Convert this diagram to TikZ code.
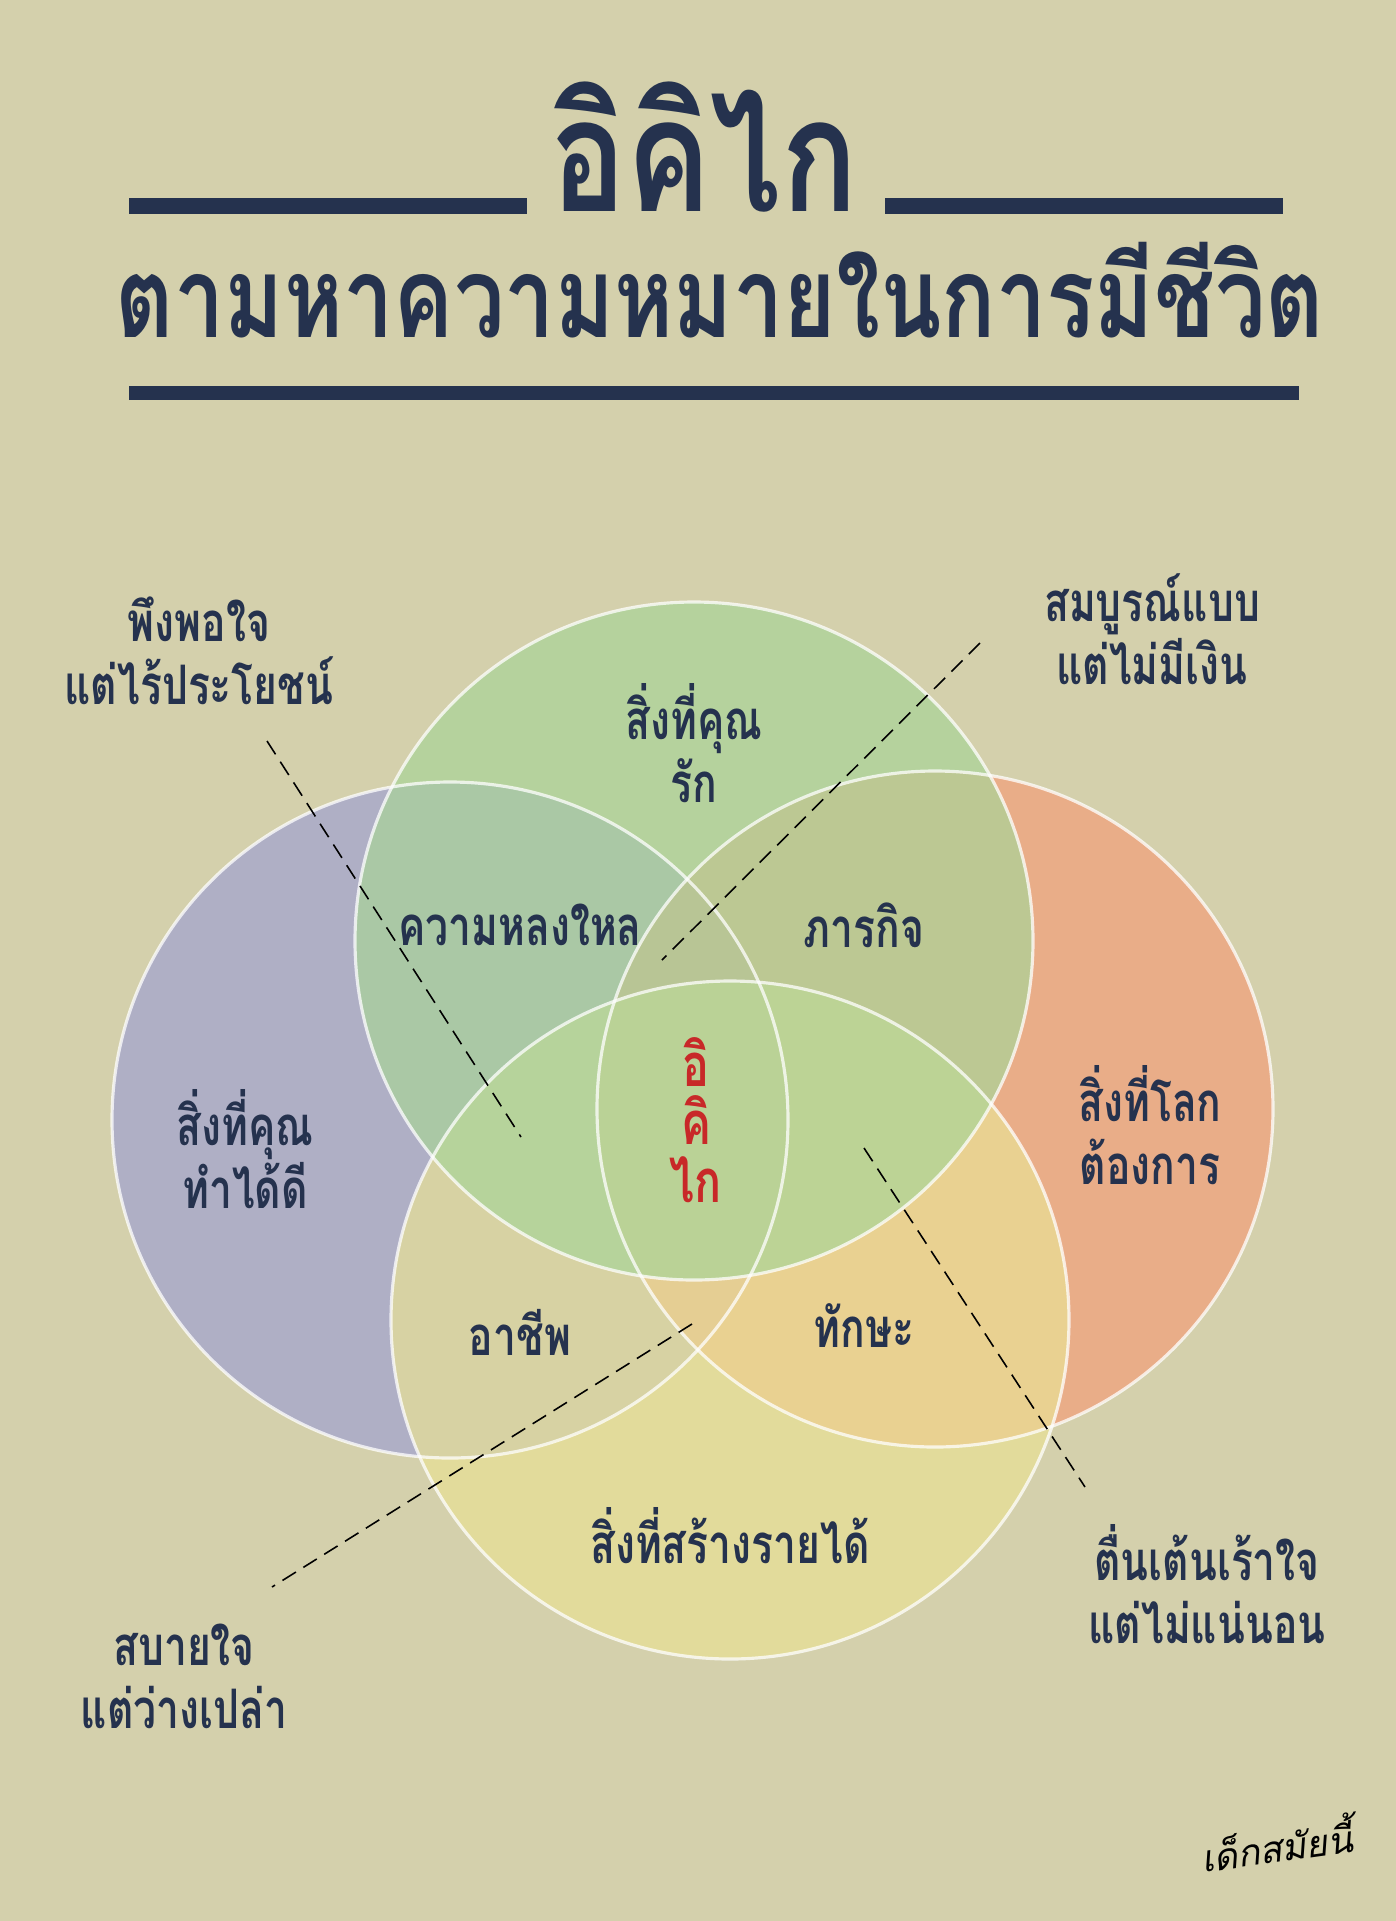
\documentclass[tikz,border=0pt]{standalone}
\usepackage{fontspec}
\newfontfamily\thaifont[Script=Thai,FakeStretch=0.75]{Loma}
\newfontfamily\thaihead[Script=Thai,FakeStretch=0.8]{Loma}
\newfontfamily\thaisign[Script=Thai]{Loma}
\definecolor{paper}{RGB}{212,208,172}
\definecolor{ink}{RGB}{37,50,78}
\definecolor{ikired}{RGB}{200,40,40}
\definecolor{lovec}{RGB}{169,212,152}
\definecolor{goodc}{RGB}{160,162,208}
\definecolor{worldc}{RGB}{242,159,121}
\definecolor{paidc}{RGB}{233,225,149}
\tikzset{
  rule/.style={ink,line width=.32cm},
  ring/.style={fill opacity=.7},
  rim/.style={white,draw opacity=.75,line width=1.8pt},
  lead/.style={black,line width=.9pt,dash pattern=on 9pt off 5pt},
  lbl/.style={ink,align=center,font=\thaifont\bfseries\fontsize{31}{36}\selectfont},
}
\begin{document}
\begin{tikzpicture}[x=.02cm,y=-.02cm]
  \fill[paper] (0,0) rectangle (1396,1921);
  \useasboundingbox (0,0) rectangle (1396,1921);
  % heading
  \draw[rule] (129,206) -- (527,206);
  \draw[rule] (885,206) -- (1283,206);
  \node[ink,anchor=base,font=\thaihead\bfseries\fontsize{90}{96}\selectfont] (title) at (704,211) {อิคิไก};
  \node[ink,anchor=base,font=\thaihead\bfseries\fontsize{64}{68}\selectfont] (subtitle) at (720,337) {ตามหาความหมายในการมีชีวิต};
  \draw[rule,line width=.28cm] (129,393) -- (1299,393);
  % the four circles
  \fill[goodc,ring] (450,1120) circle[radius=338];
  \fill[worldc,ring] (935,1109) circle[radius=338];
  \fill[paidc,ring] (730,1320) circle[radius=339];
  \fill[lovec,ring] (694,941) circle[radius=339];
  \foreach \c/\r in {(450,1120)/338,(935,1109)/338,(730,1320)/339,(694,941)/339}
    \draw[rim] \c circle[radius=\r];
  % leader lines
  \coordinate (w1) at (267,741);  \coordinate (w2) at (521,1137);
  \coordinate (m1) at (980,643);  \coordinate (m2) at (662,960);
  \coordinate (e1) at (864,1148); \coordinate (e2) at (1085,1487);
  \coordinate (s1) at (692,1324); \coordinate (s2) at (272,1587);
  \draw[lead] (w1) -- (w2);
  \draw[lead] (m1) -- (m2);
  \draw[lead] (e1) -- (e2);
  \draw[lead] (s1) -- (s2);
  % texts
  \node[lbl] (useless) at (199,651) {พึงพอใจ\\แต่ไร้ประโยชน์};
  \node[lbl] (nomoney) at (1152,629) {สมบูรณ์แบบ\\แต่ไม่มีเงิน};
  \node[lbl] (love) at (694,743) {สิ่งที่คุณ\\รัก};
  \node[lbl] (passion) at (520,925) {ความหลงใหล};
  \node[lbl] (mission) at (864,925) {ภารกิจ};
  \node[lbl] (good) at (245,1149) {สิ่งที่คุณ\\ทำได้ดี};
  \node[lbl] (world) at (1150,1125) {สิ่งที่โลก\\ต้องการ};
  \node[lbl,ikired,font=\thaifont\bfseries\fontsize{34}{33}\selectfont] (ikigai) at (696,1120) {อิ\\คิ\\ไก};
  \node[lbl] (profession) at (520,1332) {อาชีพ};
  \node[lbl] (vocation) at (864,1326) {ทักษะ};
  \node[lbl] (paid) at (730,1536) {สิ่งที่สร้างรายได้};
  \node[lbl] (empty) at (184,1676) {สบายใจ\\แต่ว่างเปล่า};
  \node[lbl] (unsure) at (1207,1584) {ตื่นเต้นเร้าใจ\\แต่ไม่แน่นอน};
  \node[black,rotate=8,font=\thaisign\itshape\fontsize{21}{24}\selectfont] (sign) at (1276,1843) {เด็กสมัยนี้};
\end{tikzpicture}
\end{document}
